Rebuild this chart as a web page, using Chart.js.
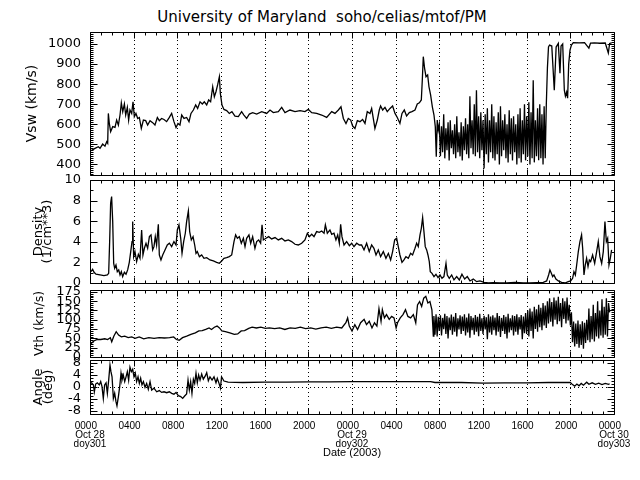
<!DOCTYPE html>
<html>
<head>
<meta charset="utf-8">
<script src="https://cdn.jsdelivr.net/npm/chart.js@4"></script>
<style>
  body { margin: 0; background: #fff; }
  #wrap { position: relative; width: 640px; height: 480px; }
  #wrap canvas { position: absolute; left: 0; top: 0; }
  #title { position: absolute; left: 0; top: 8px; width: 644px; text-align: center;
           font: 15px 'DejaVu Sans', sans-serif; line-height: 18px; white-space: pre; color: #000; }
</style>
</head>
<body>
<div id="wrap">
  <div id="title">University of Maryland  soho/celias/mtof/PM</div>
  <canvas id="c1" width="640" height="480"></canvas>
  <canvas id="c2" width="640" height="480"></canvas>
  <canvas id="c3" width="640" height="480"></canvas>
  <canvas id="c4" width="640" height="480"></canvas>
</div>
<script>
// time axis: hours since Oct 28 0000
const timeTicks = [0, 4, 8, 12, 16, 20, 24, 28, 32, 36, 40, 44, 48];
const timeLabels = ['0000','0400','0800','1200','1600','2000','0000','0400','0800','1200','1600','2000','0000'];
const dayTicks = [0, 24, 48];
const dayNames = ['Oct 28', 'Oct 29', 'Oct 30'];
const doyNames = ['doy301', 'doy302', 'doy303'];

// solar wind speed
const vswHours = [
 0.09,0.46,0.76,0.92,1.16,1.37,1.53,1.62,1.68,1.77,1.89,2.08,2.29,2.44,2.6,2.75,2.87,3.0,3.15,3.27,
 3.42,3.54,3.66,3.82,3.94,4.06,4.21,4.37,4.52,4.7,4.89,5.1,5.28,5.5,5.74,5.95,6.17,6.35,6.56,6.78,
 7.02,7.27,7.48,7.69,7.88,8.06,8.24,8.4,8.61,8.85,9.07,9.25,9.47,9.68,9.86,10.08,10.29,10.47,10.69,10.87,
 11.05,11.24,11.39,11.54,11.69,11.85,11.94,12.09,12.27,12.52,12.76,13.0,13.28,13.59,13.89,14.1,14.35,14.6,14.9,15.27,
 15.73,16.18,16.49,16.79,17.25,17.56,17.86,18.32,18.78,19.24,19.69,20.0,20.31,20.76,21.22,21.68,22.14,22.44,22.75,22.99,
 23.21,23.45,23.66,23.88,24.06,24.27,24.49,24.73,24.97,25.19,25.4,25.65,25.8,25.95,26.1,26.32,26.5,26.62,26.81,27.02,
 27.23,27.48,27.72,27.94,28.15,28.39,28.58,28.79,29.0,29.25,29.49,29.77,29.98,30.17,30.35,30.44,30.53,30.65,30.78,30.93,
 31.05,31.2,31.36,31.51,31.63,31.72,31.81,31.9,
 32.0,32.1,32.2,32.3,32.4,32.5,32.6,32.7,32.8,32.9,
 33.0,33.1,33.2,33.3,33.4,33.5,33.6,33.7,33.8,33.9,
 34.0,34.1,34.2,34.3,34.4,34.5,34.6,34.7,34.8,34.9,
 35.0,35.1,35.2,35.3,35.4,35.5,35.6,35.7,35.8,35.9,
 36.0,36.1,36.2,36.3,36.4,36.5,36.6,36.7,36.8,36.9,
 37.0,37.1,37.2,37.3,37.4,37.5,37.6,37.7,37.8,37.9,
 38.0,38.1,38.2,38.3,38.4,38.5,38.6,38.7,38.8,38.9,
 39.0,39.1,39.2,39.3,39.4,39.5,39.6,39.7,39.8,39.9,
 40.0,40.1,40.2,40.3,40.4,40.5,40.6,40.7,40.8,40.9,
 41.0,41.1,41.2,41.3,41.4,41.5,41.6,41.7,
 41.8,41.9,42.0,42.1,42.3,42.53,42.7,42.9,43.05,43.15,43.3,43.45,43.55,43.66,43.75,43.85,43.97,44.1,44.27,44.8,
 45.3,45.7,45.85,46.2,46.7,47.2,47.48,47.6,47.78
];
const vswValues = [
 468,480,488,480,501,491,513,505,654,604,563,588,584,621,596,646,707,663,701,646,
 684,621,671,654,712,638,654,629,634,579,621,618,596,618,608,596,634,618,629,624,
 613,634,654,613,584,604,596,646,629,634,613,654,671,696,679,712,701,712,696,721,
 712,787,737,762,796,837,754,696,674,668,654,663,641,638,663,646,629,651,658,651,
 663,654,671,658,663,684,658,671,663,668,663,674,658,654,646,634,663,654,671,687,
 629,604,629,621,591,579,618,613,624,604,663,654,679,629,579,621,671,691,671,684,
 663,679,691,654,634,604,654,671,641,658,663,671,701,707,721,821,937,879,837,846,
 787,746,687,646,588,438,621,571,
 600,440,590,460,650,430,580,470,610,420,
 620,480,570,450,600,430,640,460,560,440,
 610,420,590,470,630,450,600,430,740,480,
 620,450,700,440,770,460,640,430,660,470,
 620,380,650,450,680,410,620,460,700,430,
 640,420,610,450,660,400,690,440,620,470,
 650,430,600,410,670,450,630,420,640,460,
 600,400,650,430,680,410,620,450,700,420,
 640,440,710,400,660,430,820,410,620,440,
 680,420,700,430,650,400,690,430,
 700,880,985,995,990,770,985,1003,855,990,1000,770,740,760,730,900,970,995,1007,1006,
 1007,980,1005,1006,1004,1005,955,1003,1006
];

// proton density
const denHours = [
 0.09,0.24,0.37,0.55,0.92,1.28,1.59,1.71,1.8,1.89,1.98,2.08,2.17,2.26,2.38,2.5,2.63,2.75,2.87,2.99,
 3.15,3.3,3.45,3.6,3.73,3.85,3.91,4.0,4.12,4.27,4.43,4.58,4.73,4.85,4.98,5.13,5.28,5.44,5.59,5.74,
 5.86,5.98,6.1,6.26,6.35,6.5,6.66,6.87,7.08,7.27,7.48,7.69,7.88,8.0,8.15,8.31,8.43,8.58,8.73,8.85,
 9.01,9.13,9.28,9.44,9.59,9.71,9.83,10.02,10.23,10.44,10.69,10.99,11.3,11.6,11.85,12.06,12.27,12.52,12.76,12.98,
 13.19,13.34,13.5,13.68,13.86,14.05,14.2,14.35,14.56,14.72,14.9,15.11,15.27,15.45,15.63,15.76,15.88,16.12,16.37,16.64,
 16.95,17.25,17.56,17.86,18.17,18.47,18.78,19.08,19.39,19.69,19.91,20.09,20.31,20.52,20.76,21.01,21.22,21.44,21.56,21.74,
 21.98,22.14,22.35,22.53,22.69,22.84,22.96,23.08,23.27,23.51,23.76,23.97,24.18,24.43,24.67,
 24.88,25.1,25.34,25.58,25.8,26.01,26.2,26.41,26.62,26.87,27.11,27.33,27.54,27.72,27.91,28.09,28.24,28.39,28.58,28.76,
 28.94,29.16,29.37,29.55,29.77,29.92,30.07,30.23,30.35,30.47,30.59,30.71,30.84,30.96,31.08,31.17,31.33,31.51,31.69,31.88,
 32.06,32.24,32.42,32.61,32.73,32.91,33.13,33.34,33.59,33.83,34.07,34.32,34.56,34.81,35.11,35.42,35.72,36.09,36.49,36.94,
 37.55,38.17,38.93,39.69,40.3,40.91,41.52,41.83,42.01,42.13,42.26,42.38,42.5,42.68,42.9,43.2,43.51,43.81,44.03,44.21,
 44.33,44.46,44.58,44.73,44.88,45.03,45.13,45.25,45.37,45.49,45.62,45.74,45.86,46.04,46.23,46.41,46.56,46.71,46.87,47.02,
 47.17,47.3,47.42,47.54,47.66,47.78
];
const denValues = [
 1.1,1.33,1.04,0.85,0.78,0.72,0.78,0.94,4.02,7.74,8.39,5.96,1.91,1.43,1.75,1.1,1.27,0.78,1.1,0.62,
 1.04,0.85,1.27,2.01,3.05,4.02,5.96,2.56,3.05,2.08,2.79,2.4,5.15,2.72,3.37,3.86,3.37,4.5,4.67,3.21,
 3.53,4.5,3.69,5.7,2.72,2.24,2.72,3.21,3.69,3.86,3.53,4.02,3.69,5.15,5.64,4.34,2.88,4.02,4.83,5.96,
 6.99,4.99,4.18,4.5,3.69,2.88,3.05,2.56,2.72,2.4,2.46,2.24,2.14,2.01,1.91,2.14,2.4,2.46,2.56,2.72,
 4.02,4.67,4.34,4.5,3.86,4.34,3.53,4.34,4.67,3.86,4.5,3.37,4.02,4.18,3.86,5.64,4.18,4.34,4.5,4.28,
 4.41,4.18,4.34,4.08,4.18,4.02,3.76,3.69,3.86,4.18,4.83,4.5,4.73,4.5,4.99,4.92,5.05,4.83,5.64,4.83,
 5.15,4.73,4.83,4.18,4.67,3.86,5.7,4.5,3.69,4.02,3.63,3.86,3.53,3.86,3.69,
 3.69,3.21,3.86,3.05,3.69,3.37,2.72,3.21,2.56,3.05,2.4,2.88,2.24,3.05,4.18,4.34,3.53,2.72,2.01,2.24,
 2.56,2.4,2.88,2.72,3.37,3.86,3.53,4.67,5.31,6.35,4.99,3.53,3.21,2.72,2.08,1.1,0.94,0.62,0.85,0.52,
 0.78,0.46,0.62,1.91,0.78,0.46,0.78,0.3,0.62,0.3,0.85,0.39,0.62,0.2,0.39,0.13,0.2,0.07,0.0,0.04,
 0.0,0.0,0.07,0.0,0.0,0.04,0.07,0.2,0.78,1.27,0.94,0.62,0.78,0.39,0.2,0.07,0.0,0.13,0.2,0.46,
 1.1,0.78,1.75,3.05,4.02,4.67,3.37,0.78,1.75,2.4,1.59,2.24,2.08,2.72,1.91,3.05,4.02,2.56,1.91,3.05,
 5.96,4.02,4.34,1.75,2.4,3.21
];

// thermal speed
const vthHours = [
 0.03,0.35,0.66,0.98,1.36,1.61,1.86,1.99,2.18,2.4,2.62,2.87,3.18,3.5,3.82,4.13,4.51,4.92,5.39,5.87,
 6.34,6.81,7.29,7.66,7.92,8.17,8.48,8.86,9.24,9.65,9.97,10.28,10.6,10.91,11.13,11.39,11.64,11.86,12.08,12.4,
 12.81,13.22,13.53,13.85,14.16,14.54,14.85,15.24,15.65,16.06,16.43,16.91,17.38,17.85,18.33,18.8,19.27,19.75,20.22,20.69,
 21.17,21.64,22.11,22.59,23.06,23.44,23.6,23.75,24.0,24.26,24.51,24.79,25.11,25.33,25.58,25.83,26.06,26.28,26.47,26.66,
 26.78,26.97,27.16,27.41,27.63,27.85,28.04,28.17,28.42,28.67,28.9,29.12,29.37,29.62,29.84,30.0,30.19,30.38,30.57,30.76,
 30.95,31.14,31.32,31.45,
 31.5,31.6,31.7,31.8,31.9,32.0,32.1,32.2,32.3,32.4,
 32.5,32.6,32.7,32.8,32.9,33.0,33.1,33.2,33.3,33.4,
 33.5,33.6,33.7,33.8,33.9,34.0,34.1,34.2,34.3,34.4,
 34.5,34.6,34.7,34.8,34.9,35.0,35.1,35.2,35.3,35.4,
 35.5,35.6,35.7,35.8,35.9,36.0,36.1,36.2,36.3,36.4,
 36.5,36.6,36.7,36.8,36.9,37.0,37.1,37.2,37.3,37.4,
 37.5,37.6,37.7,37.8,37.9,38.0,38.1,38.2,38.3,38.4,
 38.5,38.6,38.7,38.8,38.9,39.0,39.1,39.2,39.3,39.4,
 39.5,39.6,39.7,39.8,39.9,40.0,40.1,40.2,40.3,40.4,
 40.5,40.6,40.7,40.8,40.9,41.0,41.1,41.2,41.3,41.4,
 41.5,41.6,41.7,41.8,41.9,42.0,42.1,42.2,42.3,42.4,
 42.5,42.6,42.7,42.8,42.9,43.0,43.1,43.2,43.3,43.4,
 43.5,43.6,43.7,43.8,43.9,44.0,44.1,44.2,44.3,44.4,
 44.5,44.6,44.7,44.8,44.9,45.0,45.1,45.2,45.3,45.4,
 45.5,45.6,45.7,45.8,45.9,46.0,46.1,46.2,46.3,46.4,
 46.5,46.6,46.7,46.8,46.9,47.0,47.1,47.2,47.3,47.4,
 47.5,47.6
];
const vthValues = [
 34,43,47,47,49,47,52,41,56,68,59,54,56,52,54,50,54,49,52,50,
 52,51,52,54,47,45,52,56,61,65,70,71,74,78,74,80,83,78,70,68,
 65,61,62,70,71,77,80,78,80,77,78,76,78,74,78,77,80,76,78,75,
 78,80,77,80,78,92,105,83,70,87,74,92,101,87,96,78,92,83,130,96,
 127,105,114,101,109,105,78,92,105,114,127,109,105,114,92,140,149,136,158,163,
 145,149,127,56,
 110,60,115,55,108,70,112,58,105,75,
 116,62,110,50,106,72,114,60,108,68,
 118,55,104,74,112,62,109,70,115,58,
 106,66,117,52,110,72,105,60,113,68,
 108,56,116,70,104,62,111,74,107,48,
 115,66,109,60,112,72,106,58,118,68,
 110,54,105,70,113,62,108,50,116,66,
 104,72,112,58,110,68,115,60,107,74,
 113,48,109,64,118,62,125,55,130,70,
 122,50,135,75,128,68,140,80,132,72,
 145,85,138,78,150,90,158,95,148,82,
 160,100,152,88,162,96,145,80,158,102,
 150,90,160,98,140,85,120,40,95,28,
 90,35,98,25,88,32,96,22,92,38,
 100,45,130,40,110,48,140,42,118,55,
 150,50,125,58,155,52,135,60,158,55,
 145,120
];

// flow angle
const angHours = [
 0.0,0.15,0.31,0.4,0.52,0.67,0.85,0.98,1.1,1.22,1.34,1.47,1.59,1.71,1.83,1.92,2.02,2.14,2.26,2.38,
 2.47,2.6,2.72,2.84,2.93,3.05,3.18,3.3,3.42,3.54,3.66,3.79,3.91,4.03,4.15,4.27,4.4,4.52,4.64,4.76,
 4.89,5.04,5.19,5.34,5.5,5.65,5.86,6.11,6.35,6.56,6.78,7.02,7.27,7.48,7.69,7.88,8.09,8.31,8.49,8.67,
 8.85,8.98,9.1,9.22,9.34,9.47,9.59,9.71,9.83,9.95,10.08,10.23,10.38,10.56,10.69,10.84,10.99,11.18,11.36,11.54,
 11.66,11.82,11.95,12.05,12.27,12.65,14,16,18,20,22,24,26,28,30,31.2,31.6,34,36,38,
 40,42,44,44.2,44.4,44.6,44.8,45.0,45.2,45.5,45.7,46.0,46.3,46.6,46.9,47.2,47.5,47.6
];
const angValues = [
 1.2,1.4,0.7,-1.6,1.0,1.4,0.7,1.8,0.1,-3.8,0.7,1.4,-2.1,2.3,7.3,5.1,3.4,-3.8,-2.1,-4.9,
 -6.3,-3.2,0.1,4.6,2.3,4.0,1.8,3.4,5.1,2.3,6.6,5.1,5.9,3.4,4.6,1.8,3.4,1.2,2.9,0.7,
 1.8,-0.1,1.2,-0.8,1.8,-1.0,-0.4,-1.6,-1.2,-1.8,-1.6,-1.9,-1.6,-2.1,-2.4,-1.8,-2.9,-3.2,-3.8,-3.0,
 -2.3,2.3,-1.0,1.8,-2.1,2.6,1.2,4.6,1.4,4.0,2.3,4.3,2.6,3.7,4.8,2.1,3.4,2.3,3.4,1.4,
 2.9,1.2,-0.4,3.4,2.0,1.6,1.5,1.6,1.6,1.7,1.7,1.8,1.8,1.8,1.8,1.8,1.5,1.5,1.3,1.4,
 1.4,1.5,1.5,0.8,0.3,1.0,0.4,1.2,0.6,1.6,0.9,1.4,0.9,1.3,0.8,1.2,0.9,1.1
];

Chart.defaults.color = '#000';
Chart.defaults.font.family = "'DejaVu Sans', sans-serif";

// frame, inward ticks and dotted grid, IDL style
const framePlugin = {
  id: 'frame',
  beforeDatasetsDraw(chart, args, opts) {
    const ctx = chart.ctx, a = chart.chartArea;
    const x = chart.scales.x, y = chart.scales.y;
    ctx.save();
    ctx.strokeStyle = '#000';
    ctx.lineWidth = 1;
    ctx.setLineDash([1, 3]);
    ctx.beginPath();
    timeTicks.forEach(h => {
      if (h <= x.min || h >= x.max) return;
      const px = Math.round(x.getPixelForValue(h)) + 0.5;
      ctx.moveTo(px, a.top);
      ctx.lineTo(px, a.bottom);
    });
    if (opts.zeroLine) {
      const py = Math.round(y.getPixelForValue(0)) + 0.5;
      ctx.moveTo(a.left, py);
      ctx.lineTo(a.right, py);
    }
    ctx.stroke();
    ctx.restore();
  },
  afterDatasetsDraw(chart, args, opts) {
    const ctx = chart.ctx, a = chart.chartArea;
    const x = chart.scales.x, y = chart.scales.y;
    const L = Math.round(a.left) + 0.5, R = Math.round(a.right) + 0.5;
    const T = Math.round(a.top) + 0.5, B = Math.round(a.bottom) + 0.5;
    ctx.save();
    ctx.strokeStyle = '#000';
    ctx.lineWidth = 1;
    ctx.beginPath();
    ctx.rect(L, T, R - L, B - T);
    for (let h = x.min; h <= x.max; h++) {
      const px = Math.round(x.getPixelForValue(h)) + 0.5;
      const len = h % 4 === 0 ? 6 : 3;
      ctx.moveTo(px, T); ctx.lineTo(px, T + len);
      ctx.moveTo(px, B); ctx.lineTo(px, B - len);
    }
    const first = Math.ceil(y.min / opts.minor) * opts.minor;
    for (let v = first; v <= y.max + 1e-9; v += opts.minor) {
      const py = Math.round(y.getPixelForValue(v)) + 0.5;
      ctx.moveTo(L, py); ctx.lineTo(L + 3, py);
      ctx.moveTo(R, py); ctx.lineTo(R - 3, py);
    }
    y.ticks.forEach(t => {
      const py = Math.round(y.getPixelForValue(t.value)) + 0.5;
      ctx.moveTo(L, py); ctx.lineTo(L + 7, py);
      ctx.moveTo(R, py); ctx.lineTo(R - 7, py);
    });
    ctx.stroke();
    ctx.restore();
  }
};

function tickLabel(v) {
  const i = timeTicks.indexOf(v);
  const t = timeLabels[i] + '   ';
  const d = dayTicks.indexOf(v);
  if (d < 0) return t;
  return [t, dayNames[d], doyNames[d]];
}

function makePanel(p) {
  const xAxis = !!p.xAxis;
  new Chart(document.getElementById(p.id), {
    type: 'line',
    data: {
      datasets: [{
        data: p.hours.map((h, i) => ({ x: h, y: p.values[i] })),
        borderColor: '#000',
        borderWidth: 1.3,
        pointRadius: 0,
        tension: 0,
        fill: false
      }]
    },
    options: {
      responsive: false,
      animation: false,
      events: [],
      layout: { padding: { left: 0, right: 26, top: p.top, bottom: xAxis ? 14 : 480 - p.bottom } },
      plugins: {
        legend: { display: false },
        tooltip: { enabled: false },
        frame: { minor: p.minor, zeroLine: !!p.zeroLine }
      },
      scales: {
        x: {
          type: 'linear',
          min: 0,
          max: 48,
          display: xAxis,
          afterFit: s => { s.height = xAxis ? 480 - p.bottom - 14 : 0; },
          afterBuildTicks: s => { s.ticks = timeTicks.map(v => ({ value: v })); },
          grid: { display: false, drawTicks: false },
          border: { display: false },
          ticks: {
            autoSkip: false,
            maxRotation: 0,
            padding: 8,
            font: { family: "'Liberation Sans Narrow', 'Liberation Sans', sans-serif", size: 10, lineHeight: 0.9 },
            callback: v => tickLabel(v)
          },
          title: {
            display: true,
            text: 'Date (2003)',
            font: { family: "'Liberation Sans', sans-serif", size: 11, lineHeight: 1 },
            padding: { top: 0, bottom: 8 }
          }
        },
        y: {
          min: p.min,
          max: p.max,
          afterFit: s => { s.width = 90; },
          grid: { display: false, drawTicks: false },
          border: { display: false },
          ticks: {
            stepSize: p.step,
            includeBounds: false,
            autoSkip: false,
            padding: 9,
            font: { size: 13 },
            callback: v => String(v)
          },
          title: {
            display: true,
            text: p.title,
            font: { size: p.titleSize, lineHeight: p.titleLH },
            padding: { top: p.titlePad, bottom: 0 }
          }
        }
      }
    },
    plugins: [framePlugin]
  });
}

makePanel({ id: 'c1', hours: vswHours, values: vswValues, top: 32, bottom: 175,
  min: 347, max: 1060, step: 100, minor: 10,
  title: 'Vsw (km/s)', titleSize: 14, titleLH: 1, titlePad: 25 });
makePanel({ id: 'c2', hours: denHours, values: denValues, top: 180, bottom: 283,
  min: 0, max: 10, step: 2, minor: 1,
  title: ['Density', '(1/cm**3)'], titleSize: 13, titleLH: 0.7, titlePad: 34 });
makePanel({ id: 'c3', hours: vthHours, values: vthValues, top: 290, bottom: 357,
  min: 0, max: 180, step: 25, minor: 5,
  title: 'Vth (km/s)', titleSize: 12.5, titleLH: 1, titlePad: 33.75 });
makePanel({ id: 'c4', hours: angHours, values: angValues, top: 360, bottom: 414,
  min: -9, max: 9, step: 4, minor: 1, zeroLine: true, xAxis: true,
  title: ['Angle', '(deg)'], titleSize: 13, titleLH: 0.75, titlePad: 34 });
</script>
</body>
</html>
